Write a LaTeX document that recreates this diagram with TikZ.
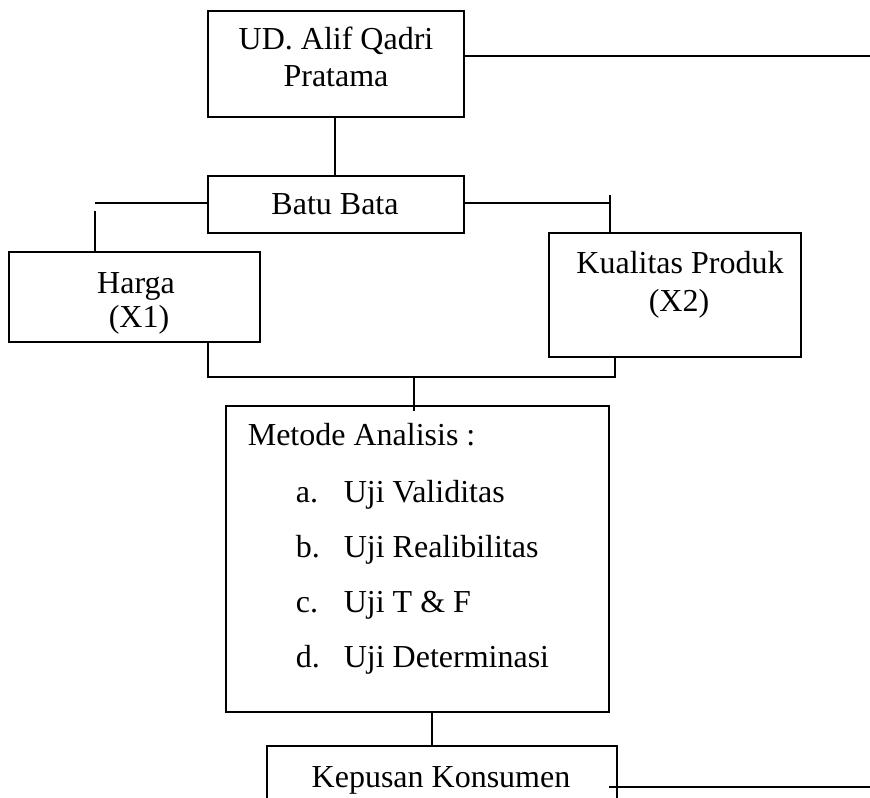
\documentclass[tikz,border=0pt]{standalone}
\usepackage{fontspec}
\setmainfont{Liberation Serif}

\tikzset{every picture/.style={line width=1.2pt}}
\tikzset{
  box/.style={draw, rectangle, inner sep=0pt},
  txt/.style={anchor=base, inner sep=0pt, font=\fontsize{24}{28}\selectfont},
  txtl/.style={txt, anchor=base west}
}

\begin{document}
\begin{tikzpicture}[x=0.75pt,y=0.75pt,yscale=-1,xscale=1]
\useasboundingbox (0,0) rectangle (870,798);
\clip (0,0) rectangle (870,798);

%Boxes
\node[box, minimum width=192pt, minimum height=79.5pt] (ud) at (336,64) {};
\node[box, minimum width=192pt, minimum height=42.75pt] (bata) at (336,204.5) {};
\node[box, minimum width=188.25pt, minimum height=67.5pt] (harga) at (134.5,297) {};
\node[box, minimum width=189pt, minimum height=93pt] (kualitas) at (675,295) {};
\node[box, minimum width=287.25pt, minimum height=229.5pt] (metode) at (417.5,559) {};
\node[box, minimum width=262.5pt, minimum height=78pt] (kepusan) at (442,798) {};

% Text Nodes
\node[txt] (udA) at (336,50) {UD. Alif Qadri};
\node[txt] (udB) at (336,87) {Pratama};
\node[txt] (bataT) at (335,215) {Batu Bata};
\node[txt] (hargaA) at (136,294) {Harga};
\node[txt] (hargaB) at (139,328) {(X1)};
\node[txt] (kualA) at (680,274) {Kualitas Produk};
\node[txt] (kualB) at (679,311) {(X2)};
\node[txtl] (metT) at (247,445) {Metode Analisis :};
\node[txtl] (itA) at (295,502) {a.};
\node[txtl] (itAT) at (343,502) {Uji Validitas};
\node[txtl] (itB) at (295,557) {b.};
\node[txtl] (itBT) at (343,557) {Uji Realibilitas};
\node[txtl] (itC) at (295,612) {c.};
\node[txtl] (itCT) at (343,612) {Uji T \& F};
\node[txtl] (itD) at (295,667) {d.};
\node[txtl] (itDT) at (343,667) {Uji Determinasi};
\node[txt] (kepT) at (441,787) {Kepusan Konsumen};

%Coordinates
\coordinate (udR) at (870,56);
\coordinate (bL) at (95,203);
\coordinate (hT) at (95,211);
\coordinate (bR) at (610,203);
\coordinate (kT) at (610,195);
\coordinate (jL) at (208,377);
\coordinate (jR) at (615,377);
\coordinate (jM) at (414,377);
\coordinate (mT) at (414,411);
\coordinate (mB) at (432,712);
\coordinate (kpL) at (609,787);
\coordinate (kpR) at (870,787);

%Straight Lines
\draw (ud.east |- udR) -- (udR);
\draw (ud.south -| bataT) -- (bata.north -| bataT);
\draw (bata.west |- bL) -- (bL);
\draw (hT) -- (hT |- harga.north);
\draw (bata.east |- bR) -- (bR);
\draw (kT) -- (kT |- kualitas.north);
\draw (jL |- harga.south) -- (jL) -- (jR) -- (jR |- kualitas.south);
\draw (jM) -- (mT);
\draw (mB |- metode.south) -- (mB |- kepusan.north);
\draw (kpL) -- (kpR);

\end{tikzpicture}
\end{document}
